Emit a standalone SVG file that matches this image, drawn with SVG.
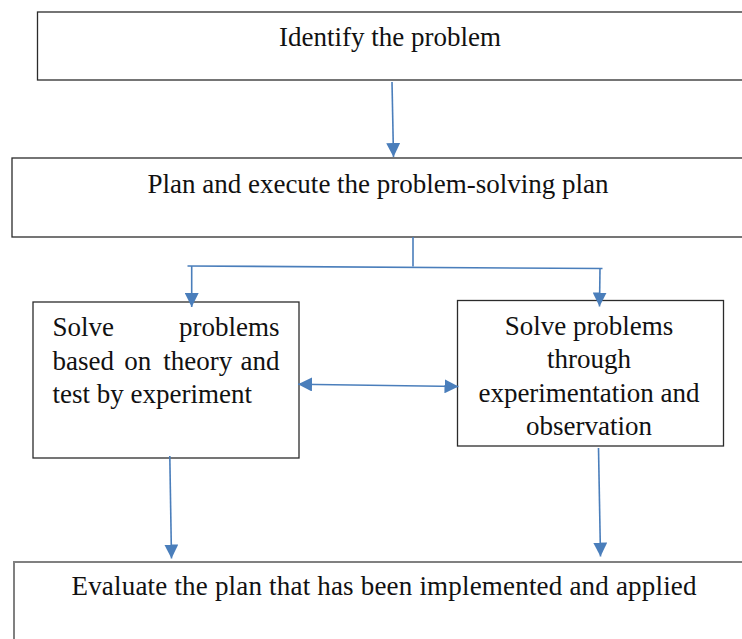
<svg xmlns="http://www.w3.org/2000/svg" width="742" height="639" viewBox="0 0 742 639">
  <style>
    .box { fill: #ffffff; stroke: #2b2b2b; stroke-width: 1.3; }
    .box2 { fill: #ffffff; stroke: #808080; stroke-width: 2; }
    .t { font-family: "Liberation Serif", "Times New Roman", serif; font-size: 27px; fill: #111111; }
    .c { text-anchor: middle; }
    .e { text-anchor: end; }
    .con { fill: none; stroke: #4a7ebb; stroke-width: 1.6; }
  </style>
  <defs>
    <marker id="ah" viewBox="0 0 14 14" refX="14" refY="7" markerWidth="14" markerHeight="14" markerUnits="userSpaceOnUse" orient="auto-start-reverse">
      <path d="M0,0 L14,7 L0,14 z" fill="#4a7ebb"/>
    </marker>
  </defs>
  <rect width="742" height="639" fill="#ffffff"/>

  <g id="n-identify">
    <rect class="box" x="37.5" y="12" width="720" height="68"/>
    <text class="t c" x="390" y="46">Identify the problem</text>
  </g>

  <g id="n-plan">
    <rect class="box" x="12" y="158" width="745" height="79"/>
    <text class="t c" x="378" y="193">Plan and execute the problem-solving plan</text>
  </g>

  <g id="n-theory">
    <rect class="box" x="33" y="302" width="266" height="156"/>
    <text class="t" x="52.5" y="336">Solve</text>
    <text class="t e" x="279.5" y="336">problems</text>
    <text class="t" x="52.5" y="369.5">based</text>
    <text class="t" x="124.3" y="369.5">on</text>
    <text class="t" x="163.3" y="369.5">theory</text>
    <text class="t e" x="279.5" y="369.5">and</text>
    <text class="t" x="52.5" y="403">test by experiment</text>
  </g>

  <g id="n-experiment">
    <rect class="box" x="457.5" y="300.5" width="266" height="145.5"/>
    <text class="t c" x="589" y="334.5">Solve problems</text>
    <text class="t c" x="589" y="368">through</text>
    <text class="t c" x="589" y="401.5">experimentation and</text>
    <text class="t c" x="589" y="435">observation</text>
  </g>

  <g id="n-evaluate">
    <rect class="box2" x="14" y="562" width="760" height="100"/>
    <text class="t c" x="384" y="595" textLength="625" lengthAdjust="spacing">Evaluate the plan that has been implemented and applied</text>
  </g>

  <g id="connectors">
    <line class="con" x1="392" y1="82" x2="393.5" y2="157" marker-end="url(#ah)"/>
    <polyline class="con" points="413,237 413,266.5"/>
    <line class="con" x1="187.5" y1="266" x2="602.5" y2="268.5"/>
    <line class="con" x1="191.7" y1="266" x2="191.7" y2="307" marker-end="url(#ah)"/>
    <line class="con" x1="600" y1="268.5" x2="599.5" y2="306.5" marker-end="url(#ah)"/>
    <line class="con" x1="298" y1="384.3" x2="458.5" y2="386.5" marker-start="url(#ah)" marker-end="url(#ah)"/>
    <line class="con" x1="169.8" y1="456" x2="171.5" y2="558.5" marker-end="url(#ah)"/>
    <line class="con" x1="598.5" y1="448" x2="600.5" y2="556.5" marker-end="url(#ah)"/>
  </g>
</svg>
